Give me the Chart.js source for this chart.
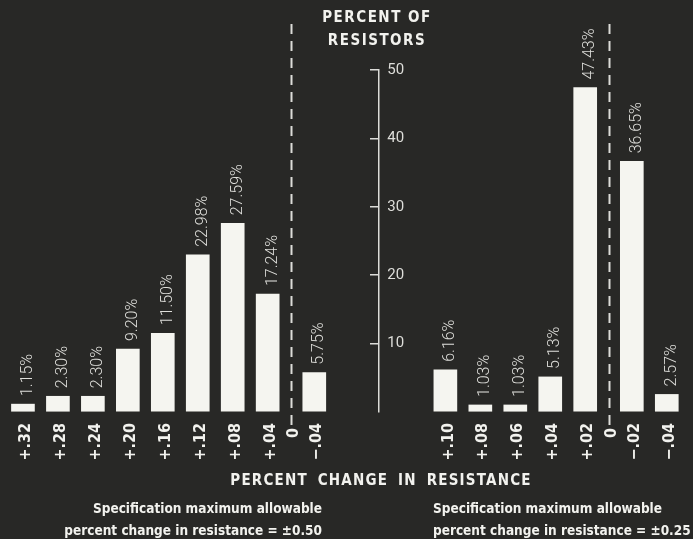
<!DOCTYPE html>
<html>
<head>
<meta charset="utf-8">
<script src="https://cdn.jsdelivr.net/npm/chart.js@4/dist/chart.umd.min.js"></script>
<style>
  body { margin: 0; background: #282826; }
  #wrap { position: relative; width: 693px; height: 539px; }
  canvas { position: absolute; left: 0; top: 0; }
  .t {
    position: absolute; color: #f2f2ee; white-space: nowrap;
    font-family: 'DejaVu Sans Condensed', 'DejaVu Sans', sans-serif; font-weight: bold;
  }
  #yTitle { left: 297px; width: 160px; top: 6px; text-align: center; font-size: 15px; line-height: 23px; letter-spacing: 1.5px; }
  #xTitle { left: 201px; width: 360px; top: 469px; text-align: center; font-size: 15px; line-height: 22px; letter-spacing: 1.2px; word-spacing: 4px; }
  .note { top: 497px; font-size: 13.5px; line-height: 22px; }
  #noteL { right: 371px; text-align: right; }
  #noteR { left: 433px; text-align: left; }
</style>
</head>
<body>
<div id="wrap">
  <canvas id="chart" width="693" height="539"></canvas>
  <div class="t" id="yTitle">PERCENT OF<br>RESISTORS</div>
  <div class="t" id="xTitle">PERCENT CHANGE IN RESISTANCE</div>
  <div class="t note" id="noteL">Specification maximum allowable<br>percent change in resistance = ±0.50</div>
  <div class="t note" id="noteR">Specification maximum allowable<br>percent change in resistance = ±0.25</div>
</div>
<script>
// left group: spec ±0.50
const leftLabels = ['+.32', '+.28', '+.24', '+.20', '+.16', '+.12', '+.08', '+.04', '\u2212.04'];
const leftValues = [1.15, 2.30, 2.30, 9.20, 11.50, 22.98, 27.59, 17.24, 5.75];
// right group: spec ±0.25
const rightLabels = ['+.10', '+.08', '+.06', '+.04', '+.02', '\u2212.02', '\u2212.04'];
const rightValues = [6.16, 1.03, 1.03, 5.13, 47.43, 36.65, 2.57];
const yTicks = [0, 10, 20, 30, 40, 50];

// x axis is laid out in "slots": bins 3 apart, the zero line 2 slots from its neighbours
const STEP = 3, ZERO_GAP = 2;
function place(labels, start) {
  const pos = [];
  let x = start, zero = null;
  labels.forEach((lab, i) => {
    if (i > 0) {
      if (labels[i - 1][0] === '+' && lab[0] === '\u2212') {
        zero = x + ZERO_GAP;
        x = zero + ZERO_GAP;
      } else {
        x += STEP;
      }
    }
    pos.push(x);
  });
  return { pos, zero };
}
const L = place(leftLabels, 0);
const AXIS = L.pos[L.pos.length - 1] + 5.5;
const R = place(rightLabels, AXIS + 5.75);

const xTicks = [];
L.pos.forEach((p, i) => xTicks.push({ value: p, label: leftLabels[i] }));
xTicks.push({ value: L.zero, label: '0 ' });
R.pos.forEach((p, i) => xTicks.push({ value: p, label: rightLabels[i] }));
xTicks.push({ value: R.zero, label: '0 ' });
xTicks.sort((a, b) => a.value - b.value);

const points = L.pos.map((p, i) => ({ x: p, y: leftValues[i] }))
  .concat(R.pos.map((p, i) => ({ x: p, y: rightValues[i] })));

const INK = '#f2f2ee';

// dashed zero lines
const zeroLines = {
  id: 'zeroLines',
  beforeDatasetsDraw(chart) {
    const { ctx, chartArea, scales } = chart;
    ctx.save();
    ctx.strokeStyle = '#dcdcd8';
    ctx.lineWidth = 2;
    ctx.setLineDash([10, 7]);
    [L.zero, R.zero].forEach(z => {
      const x = Math.round(scales.x.getPixelForValue(z)) + 0.5;
      ctx.beginPath();
      ctx.moveTo(x, chartArea.top - 46);
      ctx.lineTo(x, chartArea.bottom + 14);
      ctx.stroke();
    });
    ctx.restore();
  }
};

// rotated value labels above bars + y tick labels to the right of the axis
const labelsPlugin = {
  id: 'labelsPlugin',
  afterDatasetsDraw(chart) {
    const { ctx, scales } = chart;
    const meta = chart.getDatasetMeta(0);
    ctx.save();
    ctx.fillStyle = '#dededa';
    ctx.font = '300 16px Roboto, "Open Sans", sans-serif';
    ctx.textAlign = 'left';
    ctx.textBaseline = 'middle';
    meta.data.forEach((bar, i) => {
      ctx.save();
      ctx.translate(bar.x + 5, bar.y - 8);
      ctx.rotate(-Math.PI / 2);
      ctx.fillText(points[i].y.toFixed(2) + '%', 0, 0);
      ctx.restore();
    });
    const ax = scales.x.getPixelForValue(AXIS);
    ctx.font = '15px Roboto, "Open Sans", sans-serif';
    yTicks.forEach(v => {
      if (v === 0) return;
      ctx.fillText(String(v), ax + 9, scales.y.getPixelForValue(v));
    });
    ctx.restore();
  }
};

new Chart(document.getElementById('chart'), {
  type: 'bar',
  data: {
    datasets: [{
      data: points,
      backgroundColor: '#f5f5f0',
      borderWidth: 0,
      barThickness: 23
    }]
  },
  options: {
    responsive: false,
    animation: false,
    layout: { padding: { top: 70, bottom: 77, left: 0, right: 0 } },
    plugins: { legend: { display: false }, tooltip: { enabled: false } },
    scales: {
      x: {
        type: 'linear',
        min: -1.97,
        max: 57.5,
        offset: false,
        grid: { display: false },
        border: { display: false },
        afterBuildTicks: s => { s.ticks = xTicks.map(t => ({ value: t.value })); },
        afterFit: s => { s.height = 50; },
        ticks: {
          autoSkip: false,
          minRotation: 90,
          maxRotation: 90,
          padding: 3,
          labelOffset: 3,
          color: INK,
          font: { family: '"DejaVu Sans Condensed", "DejaVu Sans", sans-serif', size: 16, weight: 'bold' },
          callback: (v, i) => xTicks[i] ? xTicks[i].label : ''
        }
      },
      y: {
        min: 0,
        max: 50,
        position: { x: AXIS },
        afterBuildTicks: s => { s.ticks = yTicks.map(v => ({ value: v })); },
        grid: {
          drawOnChartArea: false,
          tickLength: 8,
          lineWidth: 1.5,
          color: c => (c.tick && c.tick.value === 0) ? 'rgba(0,0,0,0)' : '#dcdcd8'
        },
        border: { color: '#dcdcd8', width: 1.5 },
        ticks: { display: false }
      }
    }
  },
  plugins: [zeroLines, labelsPlugin]
});
</script>
</body>
</html>
